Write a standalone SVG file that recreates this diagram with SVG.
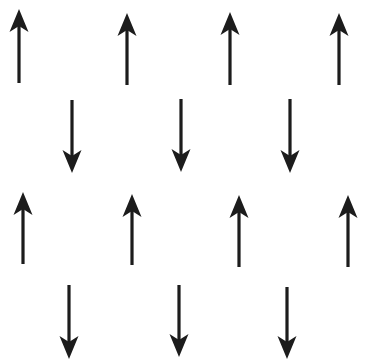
<svg xmlns="http://www.w3.org/2000/svg" width="374" height="363" viewBox="0 0 374 363">
<defs>
<marker id="ah" markerUnits="userSpaceOnUse" markerWidth="30" markerHeight="30" refX="0" refY="0" orient="auto" overflow="visible">
<path d="M12,0 L-11,-9.5 L-5,0 L-11,9.5 Z" fill="#1c1c1c"/>
</marker>
<style>
.a{stroke:#1c1c1c;stroke-width:3.2;fill:none;marker-end:url(#ah)}
</style>
</defs>
<rect width="374" height="363" fill="#fff"/>
<g id="connectors">
<line class="a" x1="19" y1="83" x2="19" y2="21"/>
<line class="a" x1="127" y1="85" x2="127" y2="25"/>
<line class="a" x1="230" y1="85" x2="230" y2="24"/>
<line class="a" x1="339" y1="85" x2="339" y2="25"/>
<line class="a" x1="72" y1="100" x2="72" y2="161"/>
<line class="a" x1="181" y1="99" x2="181" y2="160"/>
<line class="a" x1="290" y1="99" x2="290" y2="161"/>
<line class="a" x1="23" y1="264" x2="23" y2="204"/>
<line class="a" x1="132" y1="265" x2="132" y2="206"/>
<line class="a" x1="239" y1="267" x2="239" y2="207"/>
<line class="a" x1="348" y1="267" x2="348" y2="207"/>
<line class="a" x1="69" y1="285" x2="69" y2="347"/>
<line class="a" x1="179" y1="285" x2="179" y2="345"/>
<line class="a" x1="287" y1="287" x2="287" y2="347"/>
</g>
</svg>
